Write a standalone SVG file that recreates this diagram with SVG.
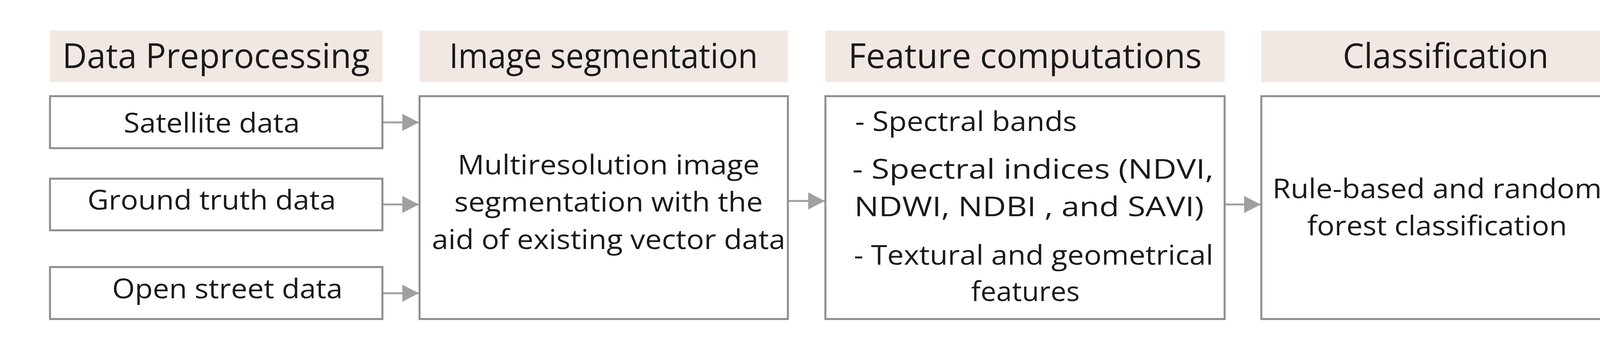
<svg xmlns="http://www.w3.org/2000/svg" width="4263" height="908" viewBox="0 0 4263 908">
<style>
.hd{fill:#f2e8e3;}
.bx{fill:#ffffff;stroke:#8c8c8c;stroke-width:5;}
.h{font-family:"Open Sans","Noto Sans",sans-serif;font-size:88px;fill:#1a1a1a;}
.t{font-family:"Open Sans","Noto Sans",sans-serif;font-size:70px;fill:#1a1a1a;}
.c{stroke:#a0a0a0;stroke-width:5;fill:none;marker-end:url(#ah);}
</style>
<defs>
<marker id="ah" markerWidth="42" markerHeight="44" refX="42" refY="22" orient="auto" markerUnits="userSpaceOnUse" viewBox="0 0 42 44">
<path d="M0,0 L42,22 L0,44 z" fill="#a0a0a0"/>
</marker>
</defs>
<rect width="4263" height="908" fill="#ffffff"/>
<g id="h1"><rect class="hd" x="128" y="78" width="851" height="132"/><text class="h" x="553" y="174" text-anchor="middle" textLength="787" lengthAdjust="spacingAndGlyphs">Data Preprocessing</text></g>
<g id="h2"><rect class="hd" x="1074" y="78" width="943" height="132"/><text class="h" x="1545" y="174" text-anchor="middle" textLength="790" lengthAdjust="spacingAndGlyphs">Image segmentation</text></g>
<g id="h3"><rect class="hd" x="2113" y="78" width="1022" height="132"/><text class="h" x="2624" y="174" text-anchor="middle" textLength="905" lengthAdjust="spacingAndGlyphs">Feature computations</text></g>
<g id="h4"><rect class="hd" x="3229" y="78" width="945" height="132"/><text class="h" x="3701" y="174" text-anchor="middle" textLength="527" lengthAdjust="spacingAndGlyphs">Classification</text></g>
<g id="sat"><rect class="bx" x="128" y="246" width="851" height="133"/><text class="t" x="542" y="339" text-anchor="middle" textLength="451" lengthAdjust="spacingAndGlyphs">Satellite data</text></g>
<g id="gt"><rect class="bx" x="128" y="457" width="851" height="132"/><text class="t" x="542" y="536" text-anchor="middle" textLength="636" lengthAdjust="spacingAndGlyphs">Ground truth data</text></g>
<g id="os"><rect class="bx" x="128" y="683" width="851" height="133"/><text class="t" x="582" y="763" text-anchor="middle" textLength="590" lengthAdjust="spacingAndGlyphs">Open street data</text></g>
<g id="seg"><rect class="bx" x="1074" y="246" width="943" height="570"/>
<text class="t" x="1558" y="446" text-anchor="middle" textLength="773" lengthAdjust="spacingAndGlyphs">Multiresolution image</text>
<text class="t" x="1558" y="541" text-anchor="middle" textLength="790" lengthAdjust="spacingAndGlyphs">segmentation with the</text>
<text class="t" x="1558" y="637" text-anchor="middle" textLength="905" lengthAdjust="spacingAndGlyphs">aid of existing vector data</text></g>
<g id="feat"><rect class="bx" x="2113" y="246" width="1022" height="570"/>
<text class="t" x="2189" y="335" textLength="568" lengthAdjust="spacingAndGlyphs">- Spectral bands</text>
<text class="t" x="2182" y="457" textLength="925" lengthAdjust="spacingAndGlyphs">- Spectral indices (NDVI,</text>
<text class="t" x="2187" y="553" textLength="895" lengthAdjust="spacingAndGlyphs">NDWI, NDBI , and SAVI)</text>
<text class="t" x="2186" y="677" textLength="920" lengthAdjust="spacingAndGlyphs">- Textural and geometrical</text>
<text class="t" x="2486" y="770" textLength="278" lengthAdjust="spacingAndGlyphs">features</text></g>
<g id="cls"><rect class="bx" x="3229" y="246" width="945" height="570"/>
<text class="t" x="3679" y="507" text-anchor="middle" textLength="843" lengthAdjust="spacingAndGlyphs">Rule-based and random</text>
<text class="t" x="3679" y="602" text-anchor="middle" textLength="665" lengthAdjust="spacingAndGlyphs">forest classification</text></g>
<g id="connectors">
<path class="c" d="M981,313 H1072"/>
<path class="c" d="M981,523 H1072"/>
<path class="c" d="M981,750 H1072"/>
<path class="c" d="M2019,514 H2111"/>
<path class="c" d="M3137,523 H3227"/>
</g>
</svg>
